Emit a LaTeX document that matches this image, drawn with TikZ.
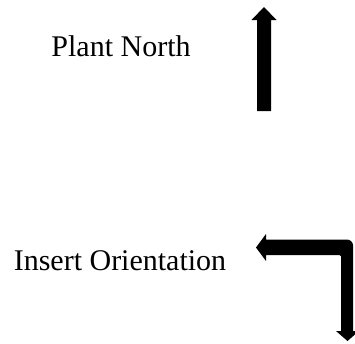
\documentclass[tikz,border=0pt]{standalone}
\usepackage{fontspec}
\setmainfont{Liberation Serif}
\begin{document}
\begin{tikzpicture}[x=1pt,y=-1pt,
  label/.style={anchor=base,inner sep=0pt,font=\fontsize{30}{36}\selectfont},
  arrowshape/.style={fill=black,draw=none}]
\useasboundingbox (0,0) rectangle (355,343);
\clip (0,0) rectangle (355,343);

% captions
\node[label] (plant) at (121,56) {Plant North};
\node[label] (insert) at (120,270) {Insert Orientation};

% north arrow
\fill[arrowshape] (264,7) -- (276.5,20) -- (271,20) -- (271,111)
  -- (257,111) -- (257,20) -- (251.5,20) -- cycle;

% orientation arrow: left, then a bend down the right side
\fill[arrowshape] (256,247.5) -- (266,234) -- (266,239.5)
  [rounded corners=6pt] -- (353,239.5) [sharp corners]
  -- (353,331) -- (359,331) -- (347.5,341) -- (336,331) -- (341,331)
  [rounded corners=1.5pt] -- (341,255) [sharp corners]
  -- (266,255) -- (266,261) -- cycle;
\end{tikzpicture}
\end{document}
